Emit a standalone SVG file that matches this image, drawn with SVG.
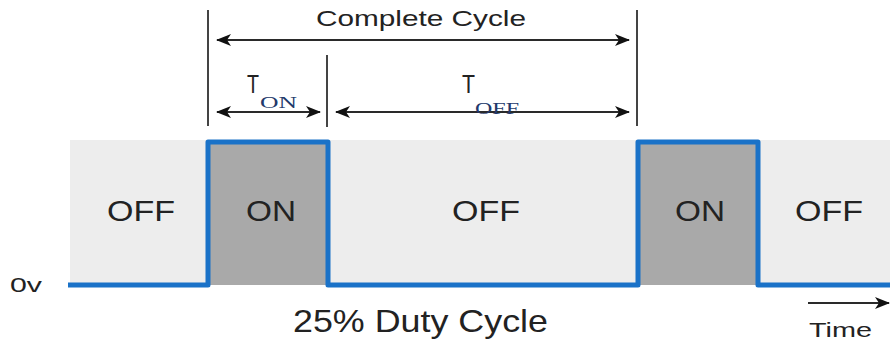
<svg xmlns="http://www.w3.org/2000/svg" width="890" height="345" viewBox="0 0 890 345">
<defs>
<marker id="ah" viewBox="0 0 15 12" refX="14" refY="6" markerWidth="15" markerHeight="12" markerUnits="userSpaceOnUse" orient="auto-start-reverse">
<path d="M0,0 L15,6 L0,12 L4,6 Z" fill="#111"/>
</marker>
</defs>
<style>
.sans{font-family:"Liberation Sans",Arial,sans-serif;fill:#222}
.serif{font-family:"Liberation Serif","Times New Roman",serif;fill:#23396b}
.lbl{font-size:29px}
.dim{stroke:#2a2a2a;stroke-width:2;fill:none}
.ext{stroke:#444;stroke-width:2;fill:none}
.sig{stroke:#1a72c8;stroke-width:5;fill:none;stroke-linejoin:round}
</style>
<rect x="0" y="0" width="890" height="345" fill="#fff"/>
<g id="background">
<rect x="70" y="140" width="820" height="145" fill="#ededed"/>
</g>
<g id="pulse1">
<rect x="208" y="142" width="120" height="143" fill="#a9a9a9"/>
<text class="sans lbl" x="246" y="221" textLength="50" lengthAdjust="spacingAndGlyphs">ON</text>
</g>
<g id="pulse2">
<rect x="638" y="142" width="120" height="143" fill="#a9a9a9"/>
<text class="sans lbl" x="675" y="221" textLength="50" lengthAdjust="spacingAndGlyphs">ON</text>
</g>
<g id="off-labels">
<text class="sans lbl" x="107" y="221" textLength="68" lengthAdjust="spacingAndGlyphs">OFF</text>
<text class="sans lbl" x="452" y="221" textLength="68" lengthAdjust="spacingAndGlyphs">OFF</text>
<text class="sans lbl" x="795" y="221" textLength="68" lengthAdjust="spacingAndGlyphs">OFF</text>
</g>
<g id="signal">
<path class="sig" d="M68,285 H208 V142 H328 V285 H638 V142 H758 V285 H890"/>
</g>
<g id="connectors">
<line class="ext" x1="208" y1="10" x2="208" y2="126"/>
<line class="ext" x1="637" y1="10" x2="637" y2="126"/>
<line class="ext" x1="327" y1="55" x2="327" y2="127"/>
<line class="dim" x1="217" y1="40" x2="629" y2="40" marker-start="url(#ah)" marker-end="url(#ah)"/>
<line class="dim" x1="217" y1="112" x2="320" y2="112" marker-start="url(#ah)" marker-end="url(#ah)"/>
<line class="dim" x1="336" y1="112" x2="629" y2="112" marker-start="url(#ah)" marker-end="url(#ah)"/>
<line class="dim" x1="808" y1="303" x2="889" y2="303" marker-end="url(#ah)"/>
</g>
<g id="labels">
<text class="sans" x="316" y="26" font-size="22" textLength="210" lengthAdjust="spacingAndGlyphs">Complete Cycle</text>
<text class="sans" x="247" y="93" font-size="25" textLength="12" lengthAdjust="spacingAndGlyphs">T</text>
<text class="serif" x="260" y="108" font-size="16" textLength="37" lengthAdjust="spacingAndGlyphs">ON</text>
<text class="sans" x="462" y="93" font-size="25" textLength="13" lengthAdjust="spacingAndGlyphs">T</text>
<text class="serif" x="475" y="114" font-size="16" textLength="44" lengthAdjust="spacingAndGlyphs">OFF</text>
<text class="sans" x="10" y="292" font-size="20" textLength="32" lengthAdjust="spacingAndGlyphs">0v</text>
<text class="sans" x="293" y="332" font-size="32" textLength="255" lengthAdjust="spacingAndGlyphs">25% Duty Cycle</text>
<text class="sans" x="809" y="337" font-size="21" textLength="63" lengthAdjust="spacingAndGlyphs">Time</text>
</g>
</svg>
